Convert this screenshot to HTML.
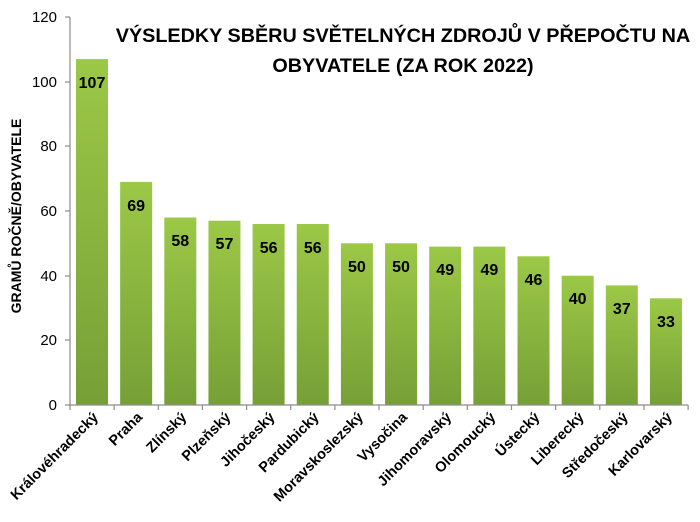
<!DOCTYPE html>
<html><head><meta charset="utf-8"><style>body{margin:0;background:#fff}svg{display:block}</style></head><body>
<svg width="700" height="522" viewBox="0 0 700 522" xmlns="http://www.w3.org/2000/svg" font-family="Liberation Sans, sans-serif">
<defs><linearGradient id="g" x1="0" y1="0" x2="0" y2="1"><stop offset="0" stop-color="#9cc847"/><stop offset="1" stop-color="#76a036"/></linearGradient></defs>
<g font-size="15" fill="#000" text-anchor="end">
<text x="57" y="410">0</text><text x="57" y="345">20</text><text x="57" y="281">40</text><text x="57" y="216">60</text><text x="57" y="151">80</text><text x="57" y="87">100</text><text x="57" y="22">120</text>
</g>
<g fill="url(#g)">
<rect x="76" y="59.1" width="32" height="345.9"/>
<rect x="120.15" y="181.9" width="32" height="223.1"/>
<rect x="164.3" y="217.5" width="32" height="187.5"/>
<rect x="208.45" y="220.7" width="32" height="184.3"/>
<rect x="252.6" y="224" width="32" height="181"/>
<rect x="296.75" y="224" width="32" height="181"/>
<rect x="340.9" y="243.3" width="32" height="161.7"/>
<rect x="385.05" y="243.3" width="32" height="161.7"/>
<rect x="429.2" y="246.6" width="32" height="158.4"/>
<rect x="473.35" y="246.6" width="32" height="158.4"/>
<rect x="517.5" y="256.3" width="32" height="148.7"/>
<rect x="561.65" y="275.7" width="32" height="129.3"/>
<rect x="605.8" y="285.4" width="32" height="119.6"/>
<rect x="649.95" y="298.3" width="32" height="106.7"/>
</g>
<g font-size="16" font-weight="bold" text-anchor="middle">
<text x="92" y="88">107</text>
<text x="136.15" y="211">69</text>
<text x="180.3" y="246">58</text>
<text x="224.45" y="249">57</text>
<text x="268.6" y="253">56</text>
<text x="312.75" y="253">56</text>
<text x="356.9" y="272">50</text>
<text x="401.05" y="272">50</text>
<text x="445.2" y="275">49</text>
<text x="489.35" y="275">49</text>
<text x="533.5" y="285">46</text>
<text x="577.65" y="304">40</text>
<text x="621.8" y="314">37</text>
<text x="665.95" y="327">33</text>
</g>
<g stroke="#8c8c8c" stroke-width="1.2">
<line x1="70" y1="17" x2="70" y2="405"/><line x1="70" y1="405" x2="688" y2="405"/>
<line x1="65" y1="405" x2="70" y2="405"/><line x1="65" y1="340" x2="70" y2="340"/><line x1="65" y1="276" x2="70" y2="276"/><line x1="65" y1="211" x2="70" y2="211"/><line x1="65" y1="146" x2="70" y2="146"/><line x1="65" y1="82" x2="70" y2="82"/><line x1="65" y1="17" x2="70" y2="17"/>
<line x1="70" y1="405" x2="70" y2="410"/>
<line x1="114.15" y1="405" x2="114.15" y2="410"/><line x1="158.3" y1="405" x2="158.3" y2="410"/><line x1="202.45" y1="405" x2="202.45" y2="410"/><line x1="246.6" y1="405" x2="246.6" y2="410"/><line x1="290.75" y1="405" x2="290.75" y2="410"/><line x1="334.9" y1="405" x2="334.9" y2="410"/><line x1="379.05" y1="405" x2="379.05" y2="410"/><line x1="423.2" y1="405" x2="423.2" y2="410"/><line x1="467.35" y1="405" x2="467.35" y2="410"/><line x1="511.5" y1="405" x2="511.5" y2="410"/><line x1="555.65" y1="405" x2="555.65" y2="410"/><line x1="599.8" y1="405" x2="599.8" y2="410"/><line x1="643.95" y1="405" x2="643.95" y2="410"/><line x1="688.1" y1="405" x2="688.1" y2="410"/>
</g>
<g font-size="14.5" font-weight="bold" text-anchor="end">
<text transform="translate(99,418) rotate(-45)">Královéhradecký</text>
<text transform="translate(143.15,418) rotate(-45)">Praha</text>
<text transform="translate(187.3,418) rotate(-45)">Zlínský</text>
<text transform="translate(231.45,418) rotate(-45)">Plzeňský</text>
<text transform="translate(275.6,418) rotate(-45)">Jihočeský</text>
<text transform="translate(319.75,418) rotate(-45)">Pardubický</text>
<text transform="translate(363.9,418) rotate(-45)">Moravskoslezský</text>
<text transform="translate(408.05,418) rotate(-45)">Vysočina</text>
<text transform="translate(452.2,418) rotate(-45)">Jihomoravský</text>
<text transform="translate(496.35,418) rotate(-45)">Olomoucký</text>
<text transform="translate(540.5,418) rotate(-45)">Ústecký</text>
<text transform="translate(584.65,418) rotate(-45)">Liberecký</text>
<text transform="translate(628.8,418) rotate(-45)">Středočeský</text>
<text transform="translate(672.95,418) rotate(-45)">Karlovarský</text>
</g>
<text transform="translate(21,216) rotate(-90)" text-anchor="middle" font-size="14" font-weight="bold">GRAMŮ ROČNĚ/OBYVATELE</text>
<text x="403" y="42" text-anchor="middle" font-size="19.8" font-weight="bold">VÝSLEDKY SBĚRU SVĚTELNÝCH ZDROJŮ V PŘEPOČTU NA</text>
<text x="403" y="72" text-anchor="middle" font-size="19.8" font-weight="bold">OBYVATELE (ZA ROK 2022)</text>
</svg>
</body></html>
